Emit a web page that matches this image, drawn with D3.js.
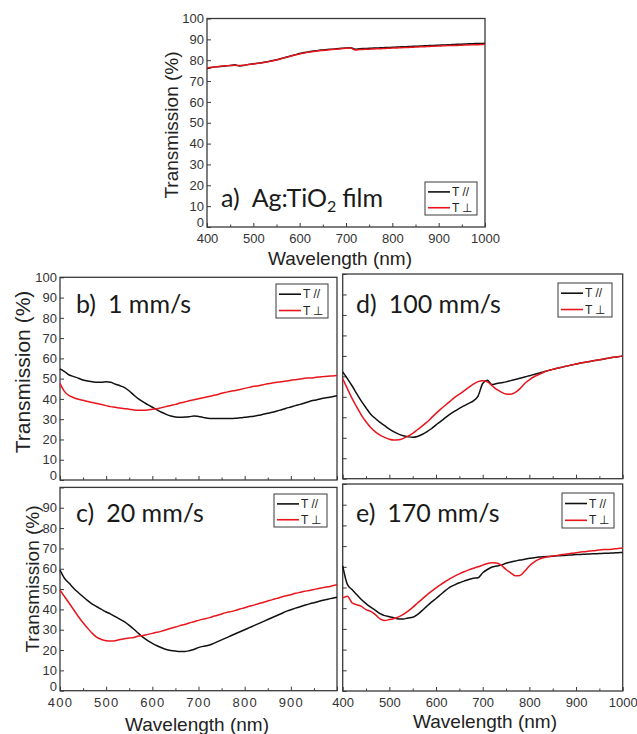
<!DOCTYPE html>
<html><head><meta charset="utf-8">
<script src="https://cdn.jsdelivr.net/npm/d3@7"></script>
<style>
html,body{margin:0;padding:0;background:#fff;}
svg{display:block;}
</style></head>
<body>
<svg id="chart" width="637" height="734"></svg>
<script>
// ---------- DATA ----------
const wavelengths = d3.range(400, 1001, 10); // 61 points, nm
const xTicks = [400, 500, 600, 700, 800, 900, 1000];
const xMinorTicks = [450, 550, 650, 750, 850, 950];
const yTicks = [0, 10, 20, 30, 40, 50, 60, 70, 80, 90, 100];
const legendLabels = ["T //", "T \u22A5"];

const aPar = [76.0,76.5,76.8,77.0,77.2,77.5,77.8,77.2,77.5,78.0,78.3,78.6,78.9,79.3,79.7,80.2,80.8,81.4,82.0,82.6,83.2,83.7,84.1,84.4,84.7,84.9,85.1,85.3,85.5,85.7,85.9,86.0,85.2,85.5,85.6,85.7,85.8,85.9,86.0,86.1,86.2,86.3,86.4,86.5,86.6,86.7,86.8,86.9,87.0,87.1,87.2,87.3,87.4,87.5,87.6,87.7,87.8,87.9,88.0,88.0,88.1];
const aPerp = [76.3,76.6,76.9,77.1,77.3,77.4,77.6,77.4,77.6,77.9,78.2,78.5,78.8,79.2,79.6,80.1,80.7,81.3,81.9,82.5,83.0,83.5,83.9,84.2,84.5,84.7,84.9,85.1,85.3,85.5,85.7,85.8,84.9,85.1,85.2,85.3,85.4,85.5,85.6,85.7,85.8,85.9,86.0,86.1,86.2,86.3,86.4,86.5,86.6,86.7,86.8,86.9,87.0,87.0,87.1,87.2,87.3,87.4,87.4,87.5,87.6];

const bPar = [54.8,53.5,51.8,51.0,50.2,49.3,48.8,48.5,48.2,48.2,48.5,48.2,47.2,46.5,45.6,43.9,41.9,40.0,38.5,37.2,35.9,34.6,33.4,32.4,31.6,31.1,30.9,31.1,31.2,31.6,31.3,30.9,30.5,30.4,30.4,30.4,30.4,30.4,30.5,30.7,30.9,31.2,31.5,31.9,32.4,32.9,33.4,34.0,34.7,35.4,36.0,36.7,37.3,38.0,38.7,39.3,39.8,40.3,40.7,41.1,41.6];
const bPerp = [47.7,43.6,41.6,40.6,39.8,39.3,38.7,38.2,37.7,37.2,36.7,36.2,35.9,35.5,35.2,34.9,34.5,34.4,34.4,34.5,34.9,35.2,35.7,36.2,36.8,37.3,38.0,38.5,39.1,39.6,40.1,40.6,41.1,41.6,42.1,42.8,43.3,43.8,44.2,44.7,45.2,45.7,46.2,46.5,47.0,47.5,47.9,48.2,48.5,48.8,49.2,49.5,49.8,50.2,50.3,50.5,50.8,51.0,51.2,51.3,51.5];

const cPar = [59.3,55.2,52.8,50.3,48.2,46.2,44.3,42.6,41.3,40.0,38.7,37.7,36.4,35.1,33.8,32.1,30.2,28.2,26.2,24.6,23.3,22.1,21.1,20.3,19.8,19.5,19.3,19.3,19.7,20.3,21.2,21.8,22.2,23.0,24.0,25.0,26.0,27.0,28.0,29.0,30.0,31.0,32.0,33.0,34.0,35.0,36.0,37.0,38.0,39.0,39.8,40.6,41.3,42.0,42.7,43.3,43.9,44.5,45.0,45.5,46.0];
const cPerp = [49.5,46.2,43.0,39.7,36.4,33.4,30.7,28.2,26.2,25.2,24.6,24.4,24.6,25.2,25.6,25.9,26.2,26.9,27.2,27.7,28.2,28.7,29.3,30.0,30.7,31.3,32.0,32.6,33.3,33.9,34.6,35.2,35.7,36.4,37.0,37.7,38.4,38.9,39.5,40.2,40.8,41.5,42.1,42.8,43.4,44.1,44.8,45.4,46.1,46.7,47.2,47.9,48.4,48.9,49.3,49.8,50.3,50.7,51.1,51.6,52.1];

const dPar = [52.2,48.9,45.4,41.6,37.9,34.6,31.5,29.4,27.5,25.9,24.2,22.9,21.8,21.0,20.5,20.2,20.6,21.6,22.9,24.4,26.3,28.0,29.8,31.5,33.0,34.4,35.6,36.8,38.0,40.3,46.5,48.1,46.0,46.5,46.9,47.3,47.9,48.5,49.1,49.7,50.3,50.9,51.5,52.2,52.8,53.4,54.0,54.5,55.0,55.5,56.0,56.5,56.9,57.3,57.7,58.1,58.5,58.9,59.3,59.6,59.9];
const dPerp = [48.9,44.0,39.2,35.1,31.1,27.8,25.0,22.9,21.3,20.2,19.3,18.9,19.0,19.7,20.8,22.2,23.9,25.7,27.5,29.7,31.9,34.0,35.9,37.8,39.7,41.3,42.9,44.6,46.2,47.4,47.9,47.3,45.5,43.6,42.3,41.4,41.3,42.2,44.0,46.5,48.3,49.8,50.9,51.9,52.8,53.4,54.0,54.5,55.0,55.5,56.0,56.5,56.9,57.3,57.7,58.1,58.5,58.9,59.3,59.6,59.9];

const ePar = [60.4,51.5,49.0,46.6,44.2,42.2,40.5,39.0,37.4,36.4,35.9,35.3,34.8,34.8,35.3,35.6,36.9,38.8,40.9,42.9,44.7,46.6,48.5,50.2,51.3,52.3,53.1,53.9,54.5,54.7,57.1,58.7,59.9,60.4,60.8,61.7,62.3,62.8,63.3,63.6,64.1,64.4,64.7,64.9,65.0,65.1,65.3,65.4,65.6,65.7,65.9,66.0,66.1,66.2,66.3,66.4,66.5,66.6,66.7,66.8,66.9];
const ePerp = [45.0,45.8,42.6,41.7,40.9,39.3,38.5,36.9,34.8,34.1,34.5,35.0,35.8,37.0,38.6,40.4,42.4,44.4,46.3,48.1,49.8,51.4,52.9,54.3,55.5,56.6,57.6,58.5,59.3,60.0,60.8,61.6,62.0,61.8,60.7,58.7,57.1,55.7,55.8,57.9,60.4,62.3,63.6,64.4,64.9,65.2,65.5,65.9,66.2,66.5,66.8,67.2,67.3,67.6,67.8,68.1,68.3,68.4,68.6,68.8,69.1];

const panelTitles = ["a)", "b)", "c)", "d)", "e)"];
const panelTexts = ["Ag:TiO", "1 mm/s", "20 mm/s", "100 mm/s", "170 mm/s"];

// ---------- LAYOUT ----------
const BLACK = "#111", RED = "#e8161c", FRAME = "#3a3a3a", TXT = "#333";
const panels = [
  {x0:207, x1:485, y0:227, y1:18.5, par:aPar, perp:aPerp, yLab:true, yMaxLab:100, xLab:true, xMaxLab:1000,
   yTitle:{x:171, y:125, size:19}, xTitle:{x:340, y:258}, title:{x:221, y:207}, leg:{x:425, y:182, w:52, h:33}},
  {x0:60, x1:337, y0:480, y1:277.3, par:bPar, perp:bPerp, yLab:true, yMaxLab:100, xLab:false,
   yTitle:{x:22, y:372, size:21}, title:{x:76, y:313}, leg:{x:276, y:284, w:52, h:34}},
  {x0:60, x1:337, y0:690.7, y1:487.4, par:cPar, perp:cPerp, yLab:true, yMaxLab:90, xLab:true, xMaxLab:900,
   yTitle:{x:32, y:579, size:19}, xTitle:{x:197, y:724}, title:{x:76, y:522}, leg:{x:274, y:494, w:53, h:33}},
  {x0:342.7, x1:622.7, y0:478.7, y1:274, par:dPar, perp:dPerp, yLab:false, xLab:false,
   title:{x:356, y:313}, leg:{x:558, y:283, w:54, h:34}},
  {x0:342.7, x1:622.7, y0:691, y1:484, par:ePar, perp:ePerp, yLab:false, xLab:true, xMaxLab:1000,
   xTitle:{x:485, y:721}, title:{x:356, y:522}, leg:{x:562, y:493, w:52, h:35}}
];

const svg = d3.select("#chart");
const FONT = "'Liberation Sans', Arial, sans-serif";
const TFONT = "Lato, 'Open Sans', sans-serif";

panels.forEach((p, i) => {
  const x = d3.scaleLinear().domain([400, 1000]).range([p.x0, p.x1]);
  const y = d3.scaleLinear().domain([0, 100]).range([p.y0, p.y1]);
  const g = svg.append("g");

  // y axis (inward ticks)
  const yAx = d3.axisLeft(y).tickValues(yTicks).tickSize(-4).tickPadding(3)
    .tickFormat(v => (p.yLab && v <= p.yMaxLab) ? v : "");
  const ya = g.append("g").attr("transform", `translate(${p.x0},0)`).call(yAx);
  // x axis major
  const xAx = d3.axisBottom(x).tickValues(xTicks).tickSize(-4).tickPadding(7)
    .tickFormat(v => (p.xLab && v <= p.xMaxLab) ? v : "");
  const xa = g.append("g").attr("transform", `translate(0,${p.y0})`).call(xAx);
  // x axis minor
  const xm = g.append("g").attr("transform", `translate(0,${p.y0})`)
    .call(d3.axisBottom(x).tickValues(xMinorTicks).tickSize(-2.5).tickFormat(""));
  [ya, xa, xm].forEach(a => {
    a.select(".domain").remove();
    a.selectAll("line").attr("stroke", FRAME).attr("stroke-width", 1);
    a.selectAll("text").attr("fill", TXT).attr("font-family", FONT).attr("font-size", 13);
  });
  // nudge the "0" label up so it clears the first wavelength label
  ya.selectAll(".tick").filter(v => v === 0).select("text").attr("dy", "-0.05em");
  if (i === 2) xa.selectAll("text").attr("letter-spacing", 1.2);

  // frame
  g.append("rect").attr("x", p.x0).attr("y", p.y1).attr("width", p.x1 - p.x0).attr("height", p.y0 - p.y1)
    .attr("fill", "none").attr("stroke", FRAME).attr("stroke-width", 1.3);

  // lines
  const line = d3.line().x((d, k) => x(wavelengths[k])).y(d => y(d)).curve(d3.curveMonotoneX);
  g.append("path").datum(p.par).attr("d", line).attr("fill", "none").attr("stroke", BLACK).attr("stroke-width", 1.5);
  g.append("path").datum(p.perp).attr("d", line).attr("fill", "none").attr("stroke", RED).attr("stroke-width", 1.5);

  // axis titles
  if (p.yTitle) {
    g.append("text").attr("transform", `translate(${p.yTitle.x},${p.yTitle.y}) rotate(-90)`)
      .attr("text-anchor", "middle").attr("dominant-baseline", "central")
      .attr("font-family", FONT).attr("font-size", p.yTitle.size).attr("fill", "#222")
      .text("Transmission (%)");
  }
  if (p.xTitle) {
    g.append("text").attr("x", p.xTitle.x).attr("y", p.xTitle.y)
      .attr("text-anchor", "middle").attr("dominant-baseline", "central")
      .attr("font-family", FONT).attr("font-size", 19).attr("fill", "#222")
      .text("Wavelength (nm)");
  }

  // panel title
  const t = g.append("text").attr("x", p.title.x).attr("y", p.title.y)
    .attr("font-family", TFONT).attr("font-size", 25).attr("fill", "#1a1a1a");
  t.append("tspan").text(panelTitles[i]);
  t.append("tspan").attr("dx", 12).text(panelTexts[i]);
  if (i === 0) {
    t.append("tspan").attr("dy", 5).attr("font-size", 16).text("2");
    t.append("tspan").attr("dy", -5).attr("dx", 6).text("film");
  }

  // legend
  const L = p.leg;
  const lg = g.append("g");
  lg.append("rect").attr("x", L.x).attr("y", L.y).attr("width", L.w).attr("height", L.h)
    .attr("fill", "#fff").attr("stroke", FRAME).attr("stroke-width", 1);
  [BLACK, RED].forEach((c, k) => {
    const yy = L.y + L.h * (k === 0 ? 0.3 : 0.78);
    lg.append("line").attr("x1", L.x + 3).attr("x2", L.x + 25).attr("y1", yy).attr("y2", yy)
      .attr("stroke", c).attr("stroke-width", 1.6);
    lg.append("text").attr("x", L.x + 27).attr("y", yy).attr("dominant-baseline", "central")
      .attr("font-family", FONT).attr("font-size", 12).attr("fill", "#222")
      .attr("xml:space", "preserve").text(legendLabels[k]);
  });
});
</script>
</body></html>
